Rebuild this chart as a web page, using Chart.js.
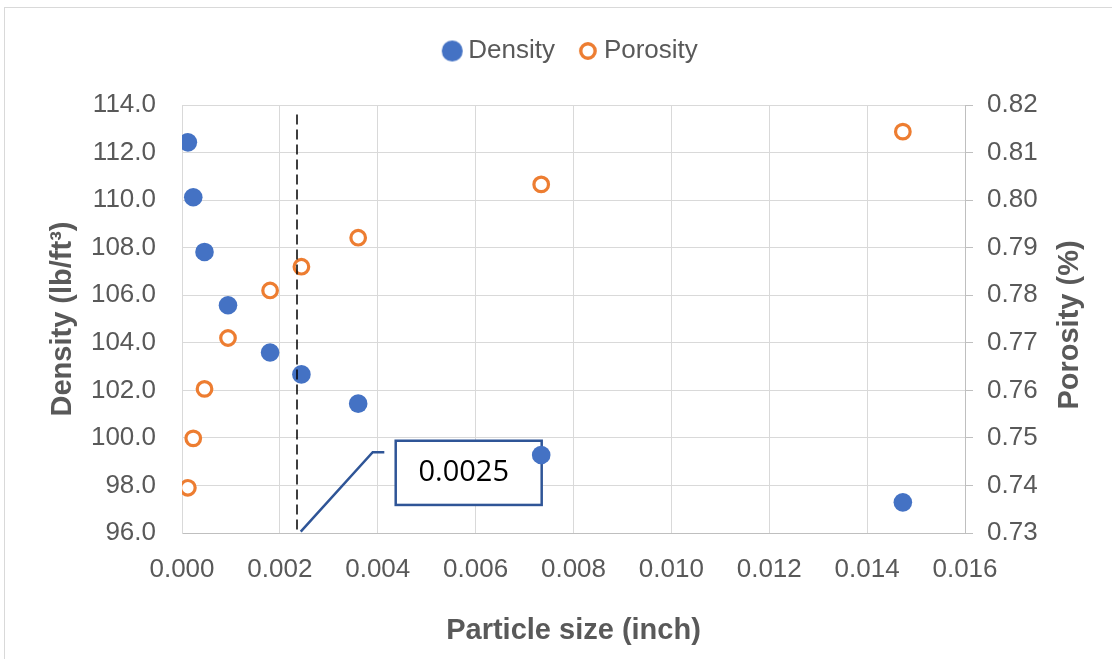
<!DOCTYPE html>
<html>
<head>
<meta charset="utf-8">
<script src="https://cdn.jsdelivr.net/npm/chart.js@4/dist/chart.umd.min.js"></script>
<style>
  html, body { margin: 0; padding: 0; background: #fff; }
  #wrap { position: relative; width: 1112px; height: 659px; overflow: hidden; }
  #frame { position: absolute; left: 4px; top: 7px; width: 1200px; height: 700px; border: 1px solid #d9d9d9; }
  #chart { position: absolute; left: 0; top: 0; }
</style>
</head>
<body>
<div id="wrap">
  <div id="frame"></div>
  <canvas id="chart" width="1112" height="659"></canvas>
</div>
<script>
// Particle size (inch) shared by both series
const particleSize = [0.00012, 0.00023, 0.00046, 0.00094, 0.0018, 0.00244, 0.0036, 0.00734, 0.01473]
// Density (lb/ft3), left axis
const density = [112.43, 110.12, 107.82, 105.58, 103.59, 102.67, 101.44, 99.28, 97.29]
// Porosity, right axis
const porosity = [0.7395, 0.7499, 0.7603, 0.7710, 0.7810, 0.7860, 0.7921, 0.8033, 0.8144]

const seriesNames = ['Density', 'Porosity']
const axisTitles = { x: 'Particle size (inch)', y: 'Density (lb/ft³)', y1: 'Porosity (%)' }

// dashed cut-off line and its call-out (data units)
const cutoffX = 0.00235
const cutoffTop = 113.6
const cutoffLabel = '0.0025'
const leaderX = [0.002426, 0.003897, 0.004134]
const leaderY = [96.06, 99.4, 99.4]
const calloutBox = { x1: 0.004367, x2: 0.00735, yTop: 99.88, yBottom: 97.18 }

const COLORS = {
  blue: '#4472C4',
  orange: '#ED7D31',
  text: '#595959',
  grid: '#d9d9d9',
  axis: '#bfbfbf',
  callout: '#2F5597'
}
const FONT = "'Liberation Sans', Arial, sans-serif"

const toPoints = (xs, ys) => xs.map((x, i) => ({ x: x, y: ys[i] }))

/**
 * Small canvas used as legend symbol, so the filled dot and the ring
 * can have their own sizes (Chart.js uses one radius for all items).
 */
const legendMarker = (fill, stroke, radius, lineWidth) => {
  const size = Math.ceil(2 * radius + lineWidth + 2)
  const c = document.createElement('canvas')
  c.width = size
  c.height = size
  const g = c.getContext('2d')
  g.beginPath()
  g.arc(size / 2, size / 2, radius, 0, Math.PI * 2)
  g.fillStyle = fill
  g.fill()
  if (lineWidth) {
    g.lineWidth = lineWidth
    g.strokeStyle = stroke
    g.stroke()
  }
  return c
}
const legendMarkers = [
  legendMarker(COLORS.blue, COLORS.blue, 10.5, 0),
  legendMarker('#fff', COLORS.orange, 7.2, 3.4)
]

// extra room under the legend, Excel leaves a wide gap there
const legendSpacer = {
  id: 'legendSpacer',
  beforeLayout (chart) {
    const legend = chart.legend
    if (!legend || legend._spaced) return
    const fit = legend.fit
    legend.fit = function () {
      fit.call(this)
      this.height += 31
    }
    legend._spaced = true
  }
}

// call-out box behind the markers, right-hand title reading bottom-up
const extras = {
  id: 'extras',
  beforeDatasetsDraw (chart) {
    const { ctx, scales } = chart
    const left = scales.x.getPixelForValue(calloutBox.x1)
    const right = scales.x.getPixelForValue(calloutBox.x2)
    const top = scales.y.getPixelForValue(calloutBox.yTop)
    const bottom = scales.y.getPixelForValue(calloutBox.yBottom)
    ctx.save()
    ctx.fillStyle = '#fff'
    ctx.fillRect(left, top, right - left, bottom - top)
    ctx.strokeStyle = COLORS.callout
    ctx.lineWidth = 2.5
    ctx.strokeRect(left, top, right - left, bottom - top)
    ctx.fillStyle = '#000'
    ctx.font = "29px 'Open Sans', sans-serif"
    ctx.textAlign = 'center'
    ctx.textBaseline = 'middle'
    ctx.fillText(cutoffLabel, (left + right) / 2 - 5, (top + bottom) / 2)
    ctx.restore()
  },
  afterDraw (chart) {
    const { ctx, chartArea } = chart
    ctx.save()
    ctx.translate(1070, (chartArea.top + chartArea.bottom) / 2 + 6)
    ctx.rotate(-Math.PI / 2)
    ctx.fillStyle = COLORS.text
    ctx.font = 'bold 29px ' + FONT
    ctx.textAlign = 'center'
    ctx.textBaseline = 'middle'
    ctx.fillText(axisTitles.y1, 0, 0)
    ctx.restore()
  }
}

Chart.defaults.font.family = FONT
Chart.defaults.color = COLORS.text

new Chart(document.getElementById('chart'), {
  type: 'scatter',
  data: {
    datasets: [
      {
        label: seriesNames[0],
        data: toPoints(particleSize, density),
        yAxisID: 'y',
        backgroundColor: COLORS.blue,
        borderColor: COLORS.blue,
        borderWidth: 0,
        pointRadius: 9.3,
        order: 1
      },
      {
        label: seriesNames[1],
        data: toPoints(particleSize, porosity),
        yAxisID: 'y1',
        backgroundColor: '#fff',
        borderColor: COLORS.orange,
        borderWidth: 3.2,
        pointRadius: 7.3,
        order: 1
      },
      {
        label: 'cutoff',
        type: 'line',
        data: [{ x: cutoffX, y: cutoffTop }, { x: cutoffX, y: 96 }],
        yAxisID: 'y',
        borderColor: '#000',
        borderWidth: 1.5,
        borderDash: [10, 5],
        pointRadius: 0,
        order: 0
      },
      {
        label: 'leader',
        type: 'line',
        data: toPoints(leaderX, leaderY),
        yAxisID: 'y',
        borderColor: COLORS.callout,
        borderWidth: 2.5,
        pointRadius: 0,
        tension: 0,
        order: 2
      }
    ]
  },
  options: {
    responsive: false,
    animation: false,
    layout: { padding: { top: 8, left: 0, right: 0, bottom: 0 } },
    plugins: {
      tooltip: { enabled: false },
      legend: {
        position: 'top',
        fullSize: false,
        labels: {
          usePointStyle: true,
          boxWidth: 6,
          boxHeight: 12,
          padding: 30,
          color: COLORS.text,
          font: { size: 26 },
          generateLabels: (chart) => Chart.defaults.plugins.legend.labels.generateLabels(chart)
            .map(item => Object.assign(item, { pointStyle: legendMarkers[item.datasetIndex] })),
          filter: (item) => seriesNames.includes(item.text)
        }
      }
    },
    scales: {
      x: {
        type: 'linear',
        position: 'bottom',
        min: 0,
        max: 0.016,
        afterFit: (scale) => { scale.height = 126 },
        ticks: {
          stepSize: 0.002,
          padding: 21,
          color: COLORS.text,
          font: { size: 26 },
          callback: (value) => value.toFixed(3)
        },
        grid: { color: COLORS.grid, drawTicks: false },
        border: { color: COLORS.axis },
        title: {
          display: true,
          text: axisTitles.x,
          color: COLORS.text,
          font: { size: 29, weight: 'bold' },
          padding: { top: 0, bottom: 11 }
        }
      },
      y: {
        type: 'linear',
        position: 'left',
        min: 96,
        max: 114,
        afterFit: (scale) => { scale.width = 182 },
        ticks: {
          stepSize: 2,
          padding: 26,
          color: COLORS.text,
          font: { size: 26 },
          callback: (value) => value.toFixed(1)
        },
        grid: { color: COLORS.grid, drawTicks: false },
        border: { color: COLORS.grid },
        title: {
          display: true,
          text: axisTitles.y,
          color: COLORS.text,
          font: { size: 29, weight: 'bold' },
          padding: { top: 46, bottom: 0 }
        }
      },
      y1: {
        type: 'linear',
        position: 'right',
        min: 0.73,
        max: 0.82,
        afterFit: (scale) => { scale.width = 147 },
        ticks: {
          stepSize: 0.01,
          padding: 14,
          color: COLORS.text,
          font: { size: 26 },
          callback: (value) => value.toFixed(2)
        },
        grid: { drawOnChartArea: false, drawTicks: true, tickLength: 8, color: COLORS.axis },
        border: { color: COLORS.axis }
      }
    }
  },
  plugins: [legendSpacer, extras]
})
</script>
</body>
</html>
